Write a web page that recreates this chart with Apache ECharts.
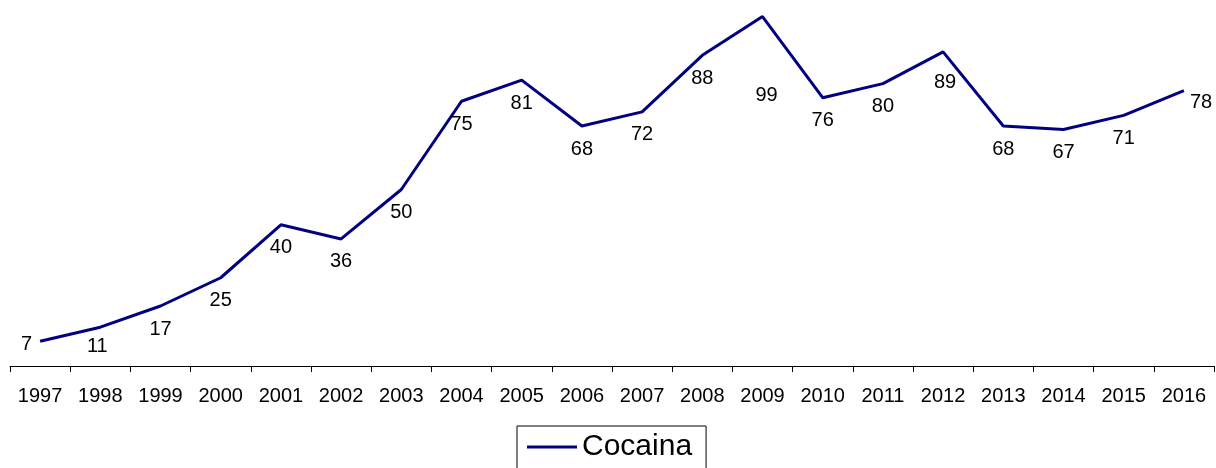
<!DOCTYPE html>
<html>
<head>
<meta charset="utf-8">
<script src="https://cdn.jsdelivr.net/npm/echarts@6/dist/echarts.min.js"></script>
<style>
  html, body { margin: 0; padding: 0; background: #fff; }
  #chart { width: 1216px; height: 468px; }
</style>
</head>
<body>
<div id="chart"></div>
<script>
// data
var years = ["1997", "1998", "1999", "2000", "2001", "2002", "2003", "2004", "2005", "2006",
  "2007", "2008", "2009", "2010", "2011", "2012", "2013", "2014", "2015", "2016"];
var cocaina = [7, 11, 17, 25, 40, 36, 50, 75, 81, 68, 72, 88, 99, 76, 80, 89, 68, 67, 71, 78];

// a few labels sit elsewhere in the original
var labelTweaks = {
  "1997": { position: "left", distance: 8, offset: [0, 3] },
  "1998": { offset: [-3, -4] },
  "2009": { offset: [4, 56] },
  "2012": { offset: [2, 8] },
  "2016": { position: "right", distance: 6, offset: [0, 12] }
};

var chart = echarts.init(document.getElementById("chart"));
var font = "Liberation Sans, Arial, Helvetica, sans-serif";

var option = {
  animation: false,
  grid: { left: 10, right: 2, top: 13, bottom: 102 },
  legend: {
    left: 517,
    top: 426,
    data: [{ name: "Cocaina", icon: "rect" }],
    itemWidth: 50,
    itemHeight: 3,
    itemGap: 7,
    padding: [6, 14, 14, 10],
    borderColor: "#000",
    borderWidth: 1,
    textStyle: { fontFamily: font, fontSize: 30, color: "#000" }
  },
  xAxis: {
    type: "category",
    data: years,
    boundaryGap: true,
    axisLine: { lineStyle: { color: "#000", width: 1 } },
    axisTick: { show: true, length: 6, lineStyle: { color: "#000" } },
    axisLabel: { color: "#000", fontFamily: font, fontSize: 20, margin: 20, interval: 0 }
  },
  yAxis: {
    type: "value",
    min: 0,
    max: 100,
    show: false,
    splitLine: { show: false }
  },
  series: [{
    name: "Cocaina",
    type: "line",
    symbol: "circle",
    symbolSize: 0.1,
    showSymbol: true,
    color: "#000080",
    itemStyle: { color: "#000080" },
    lineStyle: { width: 3, color: "#000080" },
    label: {
      show: true,
      position: "bottom",
      distance: 13,
      color: "#000",
      fontFamily: font,
      fontSize: 20
    },
    data: cocaina.map(function (v, i) {
      var t = labelTweaks[years[i]];
      return t ? { value: v, label: t } : v;
    })
  }]
};

chart.setOption(option);
</script>
</body>
</html>
